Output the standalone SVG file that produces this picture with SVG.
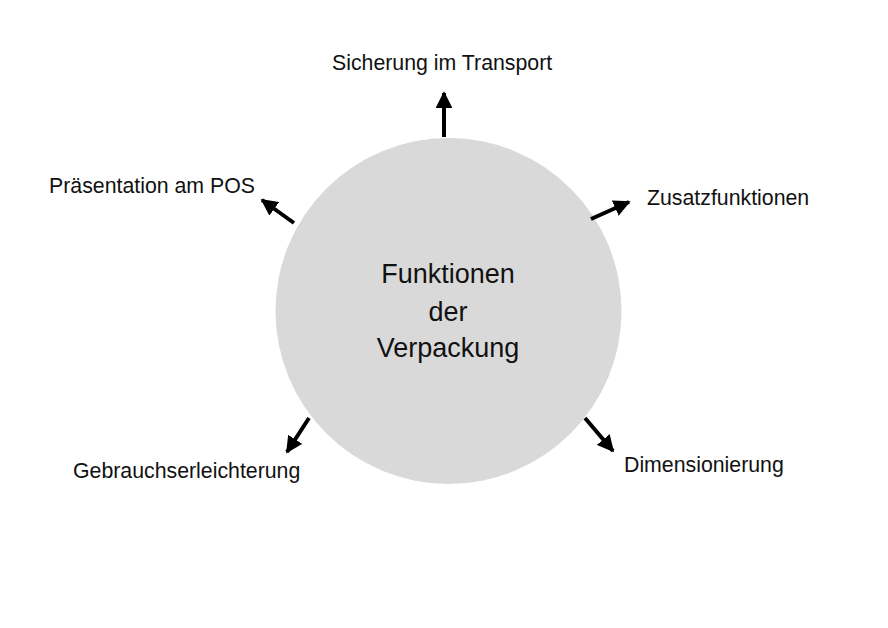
<svg xmlns="http://www.w3.org/2000/svg" width="888" height="628" viewBox="0 0 888 628">
<style>
.lbl{font-family:"Liberation Sans",Arial,sans-serif;font-size:21.3px;fill:#111}
.ctr{font-family:"Liberation Sans",Arial,sans-serif;font-size:27px;fill:#111;text-anchor:middle}
.arr{stroke:#000;stroke-width:4;fill:none;marker-end:url(#ah)}
</style>
<defs>
<marker id="ah" viewBox="0 0 10 10" refX="9" refY="5" markerWidth="4.2" markerHeight="4.2" orient="auto" markerUnits="strokeWidth">
<path d="M0,0 L10,5 L0,10 z" fill="#000"/>
</marker>
</defs>
<rect width="888" height="628" fill="#fff"/>
<g id="center">
<circle cx="448.5" cy="311" r="173" fill="#d9d9d9"/>
<text class="ctr" x="448" y="283">Funktionen</text>
<text class="ctr" x="448" y="321">der</text>
<text class="ctr" x="448" y="357">Verpackung</text>
</g>
<g id="n-sicherung"><text class="lbl" x="332" y="70">Sicherung im Transport</text></g>
<g id="n-praesentation"><text class="lbl" x="49" y="193">Präsentation am POS</text></g>
<g id="n-zusatz"><text class="lbl" x="647" y="205">Zusatzfunktionen</text></g>
<g id="n-gebrauch"><text class="lbl" x="73" y="478">Gebrauchserleichterung</text></g>
<g id="n-dimension"><text class="lbl" x="624" y="472">Dimensionierung</text></g>
<g id="connectors">
<line class="arr" x1="444" y1="137" x2="444" y2="93"/>
<line class="arr" x1="591" y1="219" x2="629" y2="202"/>
<line class="arr" x1="294" y1="223" x2="262" y2="200"/>
<line class="arr" x1="309" y1="418" x2="287" y2="452"/>
<line class="arr" x1="585" y1="418" x2="613" y2="451"/>
</g>
</svg>
